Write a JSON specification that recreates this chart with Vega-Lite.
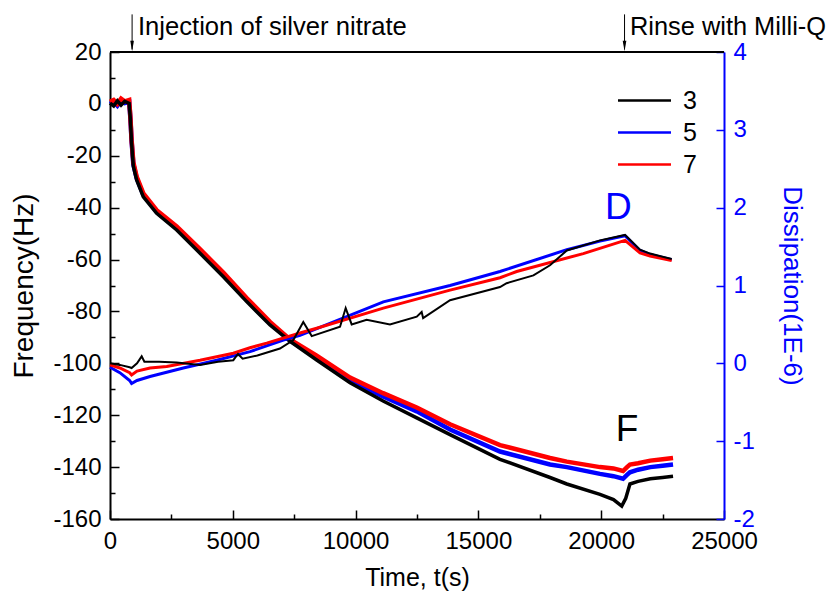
{
  "$schema": "https://vega.github.io/schema/vega-lite/v6.json",
  "width": 614,
  "height": 467,
  "autosize": {"type": "none"},
  "padding": {"left": 110, "top": 52, "right": 109, "bottom": 73},
  "background": "white",
  "config": {
    "font": "Liberation Sans",
    "view": {"stroke": null},
    "axis": {"grid": false, "domainWidth": 2, "domainColor": "black", "tickColor": "black", "tickWidth": 1.5, "labelFontSize": 24, "titleFontSize": 25, "titleFontWeight": "normal", "labelColor": "black", "titleColor": "black", "labelFlush": false, "labelOverlap": false}
  },
  "datasets": {
    "freq": [
      {"t": 0, "n": "3", "F": 0.3}, {"t": 150, "n": "3", "F": -0.8}, {"t": 300, "n": "3", "F": 1.2}, {"t": 450, "n": "3", "F": -0.5}, {"t": 600, "n": "3", "F": 1.0}, {"t": 780, "n": "3", "F": 0.2}, {"t": 830, "n": "3", "F": -6}, {"t": 880, "n": "3", "F": -15}, {"t": 950, "n": "3", "F": -24}, {"t": 1085, "n": "3", "F": -29.3}, {"t": 1357, "n": "3", "F": -35.8}, {"t": 1900, "n": "3", "F": -42.2}, {"t": 2715, "n": "3", "F": -48.6}, {"t": 3665, "n": "3", "F": -57.6}, {"t": 4615, "n": "3", "F": -66.6}, {"t": 5565, "n": "3", "F": -76.2}, {"t": 6515, "n": "3", "F": -85.2}, {"t": 7330, "n": "3", "F": -91.5}, {"t": 8416, "n": "3", "F": -98.7}, {"t": 9773, "n": "3", "F": -107.5}, {"t": 11120, "n": "3", "F": -114.5}, {"t": 12490, "n": "3", "F": -121}, {"t": 13845, "n": "3", "F": -127.5}, {"t": 15880, "n": "3", "F": -137}, {"t": 17917, "n": "3", "F": -144}, {"t": 18600, "n": "3", "F": -146.5}, {"t": 19950, "n": "3", "F": -150.5}, {"t": 20500, "n": "3", "F": -152.5}, {"t": 20836, "n": "3", "F": -155}, {"t": 21000, "n": "3", "F": -152}, {"t": 21170, "n": "3", "F": -146.5}, {"t": 21500, "n": "3", "F": -145.5}, {"t": 22000, "n": "3", "F": -144.5}, {"t": 22500, "n": "3", "F": -144}, {"t": 22925, "n": "3", "F": -143.5},
      {"t": 0, "n": "5", "F": 0.0}, {"t": 150, "n": "5", "F": 0.8}, {"t": 300, "n": "5", "F": -0.7}, {"t": 450, "n": "5", "F": 1.3}, {"t": 600, "n": "5", "F": 0.3}, {"t": 780, "n": "5", "F": 0.8}, {"t": 830, "n": "5", "F": -5.5}, {"t": 880, "n": "5", "F": -14.5}, {"t": 950, "n": "5", "F": -23.2}, {"t": 1085, "n": "5", "F": -28.6}, {"t": 1357, "n": "5", "F": -35.1}, {"t": 1900, "n": "5", "F": -41.6}, {"t": 2715, "n": "5", "F": -47.9}, {"t": 3665, "n": "5", "F": -56.8}, {"t": 4615, "n": "5", "F": -65.8}, {"t": 5565, "n": "5", "F": -75.5}, {"t": 6515, "n": "5", "F": -84.6}, {"t": 7330, "n": "5", "F": -91.2}, {"t": 8416, "n": "5", "F": -97.8}, {"t": 9773, "n": "5", "F": -106.5}, {"t": 11120, "n": "5", "F": -112.8}, {"t": 12490, "n": "5", "F": -118.5}, {"t": 13845, "n": "5", "F": -125.5}, {"t": 15880, "n": "5", "F": -134}, {"t": 17917, "n": "5", "F": -139}, {"t": 18600, "n": "5", "F": -140}, {"t": 19950, "n": "5", "F": -142.6}, {"t": 20500, "n": "5", "F": -143.5}, {"t": 20890, "n": "5", "F": -144.5}, {"t": 21050, "n": "5", "F": -143}, {"t": 21170, "n": "5", "F": -142}, {"t": 21500, "n": "5", "F": -141}, {"t": 22000, "n": "5", "F": -140}, {"t": 22500, "n": "5", "F": -139.5}, {"t": 22925, "n": "5", "F": -139},
      {"t": 0, "n": "7", "F": 0.8}, {"t": 150, "n": "7", "F": 1.5}, {"t": 300, "n": "7", "F": 0}, {"t": 450, "n": "7", "F": 2}, {"t": 600, "n": "7", "F": 1}, {"t": 780, "n": "7", "F": 1.5}, {"t": 830, "n": "7", "F": -5}, {"t": 880, "n": "7", "F": -14}, {"t": 950, "n": "7", "F": -22.5}, {"t": 1085, "n": "7", "F": -28}, {"t": 1357, "n": "7", "F": -34.5}, {"t": 1900, "n": "7", "F": -41}, {"t": 2715, "n": "7", "F": -47.2}, {"t": 3665, "n": "7", "F": -56}, {"t": 4615, "n": "7", "F": -65}, {"t": 5565, "n": "7", "F": -74.8}, {"t": 6515, "n": "7", "F": -84}, {"t": 7330, "n": "7", "F": -90.8}, {"t": 8416, "n": "7", "F": -97}, {"t": 9773, "n": "7", "F": -105.5}, {"t": 11120, "n": "7", "F": -111.5}, {"t": 12490, "n": "7", "F": -117}, {"t": 13845, "n": "7", "F": -123.5}, {"t": 15880, "n": "7", "F": -131.5}, {"t": 17917, "n": "7", "F": -136.5}, {"t": 18600, "n": "7", "F": -137.9}, {"t": 19950, "n": "7", "F": -140}, {"t": 20500, "n": "7", "F": -140.5}, {"t": 20890, "n": "7", "F": -141.5}, {"t": 21050, "n": "7", "F": -140}, {"t": 21170, "n": "7", "F": -139}, {"t": 21500, "n": "7", "F": -138.5}, {"t": 22000, "n": "7", "F": -137.5}, {"t": 22500, "n": "7", "F": -137}, {"t": 22925, "n": "7", "F": -136.5}
    ],
    "diss": [
      {"t": 0, "n": "3", "D": 0}, {"t": 400, "n": "3", "D": -0.02}, {"t": 800, "n": "3", "D": -0.05}, {"t": 880, "n": "3", "D": -0.06}, {"t": 1100, "n": "3", "D": 0.0}, {"t": 1290, "n": "3", "D": 0.09}, {"t": 1400, "n": "3", "D": 0.02}, {"t": 2000, "n": "3", "D": 0.02}, {"t": 2715, "n": "3", "D": 0.01}, {"t": 3665, "n": "3", "D": -0.02}, {"t": 4400, "n": "3", "D": 0.02}, {"t": 5020, "n": "3", "D": 0.04}, {"t": 5210, "n": "3", "D": 0.12}, {"t": 5400, "n": "3", "D": 0.06}, {"t": 6000, "n": "3", "D": 0.1}, {"t": 6920, "n": "3", "D": 0.19}, {"t": 7465, "n": "3", "D": 0.3}, {"t": 7870, "n": "3", "D": 0.53}, {"t": 8213, "n": "3", "D": 0.35}, {"t": 9366, "n": "3", "D": 0.47}, {"t": 9596, "n": "3", "D": 0.71}, {"t": 9840, "n": "3", "D": 0.5}, {"t": 10450, "n": "3", "D": 0.56}, {"t": 11400, "n": "3", "D": 0.5}, {"t": 12490, "n": "3", "D": 0.6}, {"t": 12690, "n": "3", "D": 0.66}, {"t": 12750, "n": "3", "D": 0.58}, {"t": 13845, "n": "3", "D": 0.81}, {"t": 15880, "n": "3", "D": 0.98}, {"t": 16150, "n": "3", "D": 1.03}, {"t": 17240, "n": "3", "D": 1.13}, {"t": 17915, "n": "3", "D": 1.26}, {"t": 18600, "n": "3", "D": 1.45}, {"t": 19950, "n": "3", "D": 1.58}, {"t": 20970, "n": "3", "D": 1.65}, {"t": 21580, "n": "3", "D": 1.46}, {"t": 21990, "n": "3", "D": 1.41}, {"t": 22870, "n": "3", "D": 1.34},
      {"t": 0, "n": "5", "D": -0.05}, {"t": 400, "n": "5", "D": -0.12}, {"t": 800, "n": "5", "D": -0.22}, {"t": 880, "n": "5", "D": -0.26}, {"t": 1100, "n": "5", "D": -0.22}, {"t": 1630, "n": "5", "D": -0.17}, {"t": 2985, "n": "5", "D": -0.06}, {"t": 4345, "n": "5", "D": 0.04}, {"t": 5700, "n": "5", "D": 0.15}, {"t": 7060, "n": "5", "D": 0.3}, {"t": 7737, "n": "5", "D": 0.36}, {"t": 11130, "n": "5", "D": 0.79}, {"t": 13845, "n": "5", "D": 1.0}, {"t": 15880, "n": "5", "D": 1.18}, {"t": 18600, "n": "5", "D": 1.46}, {"t": 19950, "n": "5", "D": 1.57}, {"t": 20970, "n": "5", "D": 1.64}, {"t": 21580, "n": "5", "D": 1.45}, {"t": 21990, "n": "5", "D": 1.4}, {"t": 22870, "n": "5", "D": 1.33},
      {"t": 0, "n": "7", "D": -0.02}, {"t": 400, "n": "7", "D": -0.06}, {"t": 800, "n": "7", "D": -0.12}, {"t": 880, "n": "7", "D": -0.15}, {"t": 1100, "n": "7", "D": -0.1}, {"t": 1630, "n": "7", "D": -0.06}, {"t": 2310, "n": "7", "D": -0.04}, {"t": 3665, "n": "7", "D": 0.04}, {"t": 5020, "n": "7", "D": 0.13}, {"t": 5700, "n": "7", "D": 0.2}, {"t": 6380, "n": "7", "D": 0.26}, {"t": 7737, "n": "7", "D": 0.39}, {"t": 8416, "n": "7", "D": 0.45}, {"t": 11130, "n": "7", "D": 0.71}, {"t": 13845, "n": "7", "D": 0.94}, {"t": 15880, "n": "7", "D": 1.1}, {"t": 16560, "n": "7", "D": 1.18}, {"t": 19270, "n": "7", "D": 1.41}, {"t": 20970, "n": "7", "D": 1.58}, {"t": 21580, "n": "7", "D": 1.42}, {"t": 21990, "n": "7", "D": 1.38}, {"t": 22870, "n": "7", "D": 1.32}
    ]
  },
  "resolve": {"scale": {"y": "independent"}},
  "layer": [
    {
      "data": {"name": "freq"},
      "encoding": {
        "x": {"field": "t", "type": "quantitative", "scale": {"domain": [0, 25000], "nice": false},
          "axis": {"orient": "bottom", "title": "Time, t(s)", "values": [0, 2500, 5000, 7500, 10000, 12500, 15000, 17500, 20000, 22500, 25000], "labelExpr": "datum.value % 5000 == 0 ? '' + datum.value : ''", "tickSize": {"condition": {"test": "datum.value % 5000 == 0", "value": -9}, "value": -5}, "labelPadding": 19, "titlePadding": 8}},
        "y": {"field": "F", "type": "quantitative", "scale": {"domain": [-160, 20], "nice": false},
          "axis": {"orient": "left", "title": "Frequency(Hz)", "titleFontSize": 28, "values": [-160, -150, -140, -130, -120, -110, -100, -90, -80, -70, -60, -50, -40, -30, -20, -10, 0, 10, 20], "labelExpr": "datum.value % 20 == 0 ? '' + datum.value : ''", "tickSize": {"condition": {"test": "datum.value % 20 == 0", "value": -9}, "value": -5}, "labelPadding": 18, "titlePadding": 14}},
        "color": {"field": "n", "type": "nominal", "scale": {"domain": ["3", "5", "7"], "range": ["#000000", "#0000ff", "#ff0000"]},
          "legend": {"title": null, "orient": "none", "legendX": 520, "legendY": 34, "symbolType": "M-2,0H2", "symbolSize": 702, "symbolStrokeWidth": 2.5, "labelFontSize": 25, "labelOffset": 24, "rowPadding": 4, "labelColor": "black"}}
      },
      "layer": [
        {"transform": [{"filter": "datum.n == '5'"}], "mark": {"type": "line", "strokeWidth": 4.5}},
        {"transform": [{"filter": "datum.n == '7'"}], "mark": {"type": "line", "strokeWidth": 4.5}},
        {"transform": [{"filter": "datum.n == '3'"}], "mark": {"type": "line", "strokeWidth": 3.5}},
        {"transform": [{"filter": "datum.t == 0 && datum.n == '3'"}], "mark": {"type": "rule", "strokeWidth": 2, "color": "black"}, "encoding": {"x": null, "y": {"datum": 20}, "color": {"value": "black"}}},
        {"transform": [{"filter": "datum.t == 0 && datum.n == '3'"}], "mark": {"type": "text", "text": "D", "fontSize": 37, "baseline": "middle", "align": "center"}, "encoding": {"x": {"datum": 20700}, "y": {"datum": -40}, "color": {"value": "#0000ff"}}},
        {"transform": [{"filter": "datum.t == 0 && datum.n == '3'"}], "mark": {"type": "text", "text": "F", "fontSize": 37, "baseline": "middle", "align": "center"}, "encoding": {"x": {"datum": 21050}, "y": {"datum": -125.7}, "color": {"value": "black"}}},
        {"transform": [{"filter": "datum.t == 0 && datum.n == '3'"}], "mark": {"type": "rule", "strokeWidth": 1}, "encoding": {"x": {"datum": 900}, "y": {"datum": 34.5}, "y2": {"datum": 21}, "color": {"value": "black"}}},
        {"transform": [{"filter": "datum.t == 0 && datum.n == '3'"}], "mark": {"type": "rule", "strokeWidth": 1}, "encoding": {"x": {"datum": 20950}, "y": {"datum": 34.5}, "y2": {"datum": 21}, "color": {"value": "black"}}},
        {"transform": [{"filter": "datum.t == 0 && datum.n == '3'"}], "mark": {"type": "point", "shape": "M-0.35,-1L0.35,-1L0,1Z", "size": 110, "filled": true, "opacity": 1}, "encoding": {"x": {"datum": 900}, "y": {"datum": 22.3}, "color": {"value": "black"}}},
        {"transform": [{"filter": "datum.t == 0 && datum.n == '3'"}], "mark": {"type": "point", "shape": "M-0.35,-1L0.35,-1L0,1Z", "size": 110, "filled": true, "opacity": 1}, "encoding": {"x": {"datum": 20950}, "y": {"datum": 22.3}, "color": {"value": "black"}}},
        {"transform": [{"filter": "datum.t == 0 && datum.n == '3'"}], "mark": {"type": "text", "text": "Injection of silver nitrate", "fontSize": 25.6, "align": "left", "baseline": "alphabetic"}, "encoding": {"x": {"datum": 1140}, "y": {"datum": 26.6}, "color": {"value": "black"}}},
        {"transform": [{"filter": "datum.t == 0 && datum.n == '3'"}], "mark": {"type": "text", "text": "Rinse with Milli-Q", "fontSize": 25.4, "align": "left", "baseline": "alphabetic"}, "encoding": {"x": {"datum": 21170}, "y": {"datum": 26.6}, "color": {"value": "black"}}}
      ]
    },
    {
      "data": {"name": "diss"},
      "encoding": {
        "x": {"field": "t", "type": "quantitative", "scale": {"domain": [0, 25000], "nice": false}},
        "y": {"field": "D", "type": "quantitative", "scale": {"domain": [-2, 4], "nice": false},
          "axis": {"orient": "right", "title": "Dissipation(1E-6)", "titleFontSize": 26, "values": [-2, -1, 0, 1, 2, 3, 4], "labelExpr": "'' + datum.value", "tickSize": -8, "domainColor": "#0000ff", "tickColor": "#0000ff", "labelColor": "#0000ff", "titleColor": "#0000ff", "labelPadding": 17, "titlePadding": 24}},
        "color": {"field": "n", "type": "nominal"}
      },
      "layer": [
        {"transform": [{"filter": "datum.n == '5'"}], "mark": {"type": "line", "strokeWidth": 3}},
        {"transform": [{"filter": "datum.n == '7'"}], "mark": {"type": "line", "strokeWidth": 3}},
        {"transform": [{"filter": "datum.n == '3'"}], "mark": {"type": "line", "strokeWidth": 2}}
      ]
    }
  ]
}
